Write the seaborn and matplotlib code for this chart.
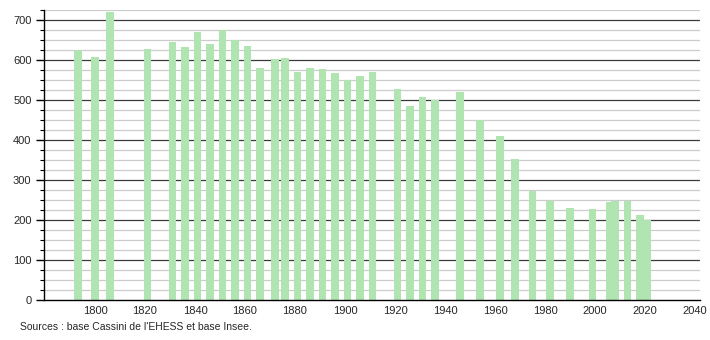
import matplotlib
matplotlib.use("Agg")
import matplotlib.pyplot as plt
import seaborn as sns
import numpy as np
import pandas as pd
from matplotlib.ticker import MultipleLocator

years = [1793, 1800, 1806, 1821, 1831, 1836, 1841, 1846, 1851, 1856,
         1861, 1866, 1872, 1876, 1881, 1886, 1891, 1896, 1901, 1906,
         1911, 1921, 1926, 1931, 1936, 1946, 1954, 1962, 1968, 1975,
         1982, 1990, 1999, 2006, 2008, 2013, 2018, 2021]
population = [624, 607, 720, 627, 645, 632, 670, 640, 675, 650,
              635, 580, 602, 605, 570, 580, 577, 567, 550, 560,
              570, 527, 485, 507, 500, 520, 450, 410, 352, 273,
              248, 229, 227, 244, 248, 248, 212, 199]
y_ticks = [0, 100, 200, 300, 400, 500, 600, 700]
x_ticks = [1800, 1820, 1840, 1860, 1880, 1900, 1920, 1940, 1960, 1980, 2000, 2020, 2040]
source_text = "Sources : base Cassini de l'EHESS et base Insee."

sns.set_style("white")
plt.rcParams['font.family'] = ['Liberation Sans', 'DejaVu Sans']

df = pd.DataFrame({"year": years, "pop": population})

fig = plt.figure(figsize=(7.1, 3.4), dpi=100)
ax = fig.add_axes([44/710, 1-300/340, (700-44)/710, (300-10)/340])

# grid lines
for v in np.arange(25, 726, 25):
    if v % 100 == 0:
        ax.axhline(v, color="#3a3a3a", lw=0.9, zorder=1)
    else:
        ax.axhline(v, color="#cccccc", lw=0.9, zorder=1)

sns.barplot(data=df, x="year", y="pop", native_scale=True, width=1.6,
            color="#b0e4b0", saturation=1, errorbar=None, ax=ax, zorder=2,
            linewidth=0)

ax.set_xlim(1779.6, 2042)
ax.set_ylim(0, 725)
ax.set_xticks(x_ticks)
ax.set_xticklabels([str(t) for t in x_ticks], fontsize=8)
ax.set_yticks(y_ticks)
ax.set_yticklabels([str(t) for t in y_ticks], fontsize=8)
ax.yaxis.set_minor_locator(MultipleLocator(25))
ax.tick_params(axis="y", which="major", length=6, width=1, color="black", left=True, pad=3)
ax.tick_params(axis="y", which="minor", length=3, width=0.8, color="black", left=True)
ax.tick_params(axis="x", length=0, pad=4)
ax.set_xlabel("")
ax.set_ylabel("")
for s in ["top", "right"]:
    ax.spines[s].set_visible(False)
ax.spines["left"].set_color("black")
ax.spines["bottom"].set_color("black")
ax.spines["left"].set_linewidth(1)
ax.spines["bottom"].set_linewidth(1)
ax.spines["left"].set_zorder(3)
ax.spines["bottom"].set_zorder(3)

fig.text(20/710, 1-327/340, source_text, fontsize=7.5, va="center", ha="left")

fig.savefig("out.png", dpi=100)
